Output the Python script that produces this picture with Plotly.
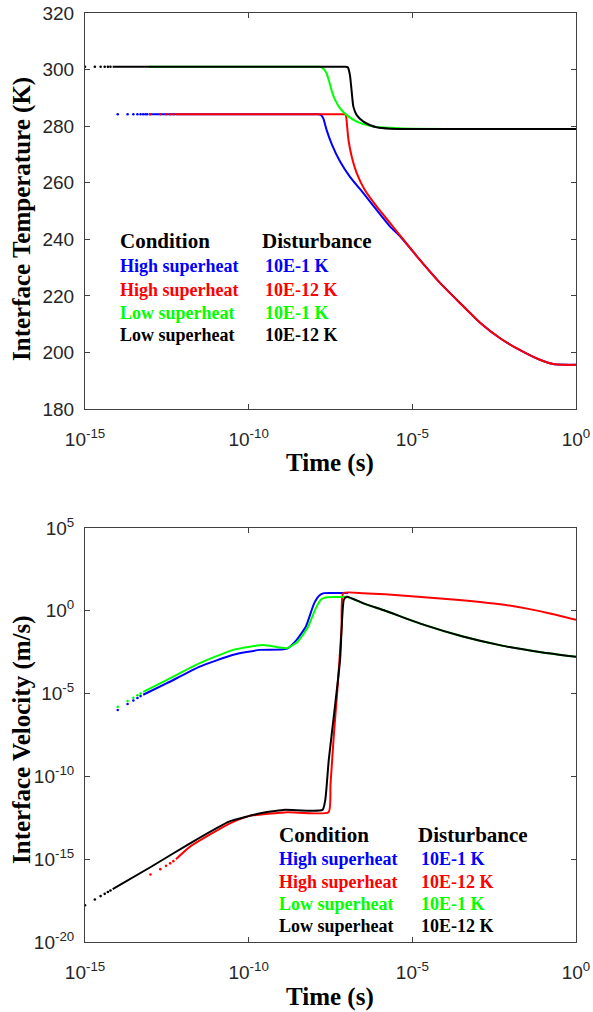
import plotly.graph_objects as go

W, H = 593, 1012

# ---------------- Top panel: interface temperature (K) ----------------
black_T_dots_t = [1e-15, 2e-15, 3e-15, 4e-15, 5e-15, 6e-15]
black_T_dots = [301.0, 301.0, 301.0, 301.0, 301.0, 301.0]
black_T_t = [7e-15, 1e-12, 1e-10, 1e-8, 6e-8, 9e-8, 1.07e-7, 1.17e-7, 1.26e-7, 1.41e-7, 1.58e-7, 2.0e-7,
             3.2e-7, 5.0e-7, 8.1e-7, 2.1e-6, 1e-5, 1e-4, 1e-2, 1.0]
black_T = [301.0, 301.0, 301.0, 301.0, 301.0, 301.0, 300.8, 299.5, 297.5, 292.0, 286.9, 283.9,
           281.6, 280.4, 279.6, 279.1, 279.0, 279.0, 279.0, 279.0]

green_T_t = [9e-14, 1e-11, 1e-9, 8e-9, 1.4e-8, 1.7e-8, 2.0e-8, 2.4e-8, 2.9e-8, 3.5e-8, 4.4e-8, 6.2e-8,
             1.0e-7, 2.0e-7, 5.1e-7, 1.3e-6, 1e-5, 1e-3, 1.0]
green_T = [301.0, 301.0, 301.0, 301.0, 301.0, 300.8, 300.1, 298.7, 295.7, 292.2, 289.2, 286.3,
           283.9, 281.6, 280.1, 279.5, 279.1, 279.0, 279.0]

blue_T_dots_t = [1e-14, 2e-14, 3e-14, 4e-14, 5e-14, 6e-14, 7e-14, 8e-14]
blue_T_dots = [284.2, 284.2, 284.2, 284.2, 284.2, 284.2, 284.2, 284.2]
blue_T_t = [9e-14, 1e-11, 1e-9, 8e-9, 1.3e-8, 1.6e-8, 1.9e-8, 2.4e-8, 3.5e-8, 6.2e-8, 1.26e-7, 3.2e-7,
            8.1e-7, 2.1e-6, 4.3e-6, 1.7e-5, 7.1e-5, 2.9e-4, 1.2e-3, 4.8e-3, 1.9e-2, 7.9e-2, 0.2, 1.0]
blue_T = [284.2, 284.2, 284.2, 284.2, 284.2, 284.0, 282.8, 278.7, 273.5, 267.5, 262.0, 256.3,
          250.4, 244.5, 241.0, 232.7, 224.5, 217.4, 210.4, 205.0, 200.9, 197.4, 195.9, 195.6]

red_T_dots_t = [1e-13, 2e-13, 3e-13, 4e-13, 5e-13]
red_T_dots = [284.2, 284.2, 284.2, 284.2, 284.2]
red_T_t = [6e-13, 1e-10, 1e-8, 6e-8, 8.6e-8, 9.3e-8, 1.02e-7, 1.12e-7, 1.41e-7, 2.0e-7, 3.5e-7, 8.1e-7,
           2.1e-6, 4.3e-6, 1.7e-5, 7.1e-5, 2.9e-4, 1.2e-3, 4.8e-3, 1.9e-2, 7.9e-2, 0.2, 0.5, 1.0]
red_T = [284.2, 284.2, 284.2, 284.2, 284.2, 284.0, 279.8, 275.1, 269.2, 263.4, 257.5, 251.6,
         245.7, 241.2, 232.7, 224.5, 217.4, 210.4, 205.0, 200.9, 197.4, 195.9, 195.6, 195.6]

# ---------------- Bottom panel: interface velocity (m/s) ----------------
blue_v_dots_t = [1e-14, 2e-14, 3e-14, 4e-14, 5e-14]
blue_v_dots = [1.02e-6, 2.34e-6, 3.8e-6, 5.37e-6, 7.08e-6]
blue_v_t = [6e-14, 3.2e-13, 3.2e-12, 3.4e-11, 2.2e-10, 1.45e-9, 2.8e-9, 5.6e-9, 1.0e-8, 1.5e-8, 2.0e-8,
            7.8e-8, 1.1e-7]
blue_v = [8.5e-6, 4.27e-5, 4.27e-4, 2.19e-3, 4.37e-3, 5.0e-3, 1.58e-2, 0.112, 2.82, 8.9, 11.7,
          11.7, 11.7]

green_v_dots_t = [1e-14, 2e-14, 3e-14, 4e-14, 5e-14]
green_v_dots = [1.62e-6, 3.55e-6, 5.6e-6, 7.9e-6, 1.0e-5]
green_v_t = [6e-14, 3.2e-13, 3.2e-12, 3.4e-11, 2.8e-10, 1.45e-9, 3.2e-9, 6.6e-9, 1.12e-8, 1.66e-8, 2.4e-8,
             6.2e-8, 1.0e-7, 3.2e-7, 1.48e-6, 2.3e-5, 3.5e-4, 5.5e-3, 8.5e-2, 1.0]
green_v = [1.26e-5, 6.8e-5, 6.9e-4, 4.37e-3, 8.5e-3, 5.5e-3, 1.41e-2, 0.112, 1.41, 5.0, 6.6,
           6.8, 7.1, 2.82, 1.0, 0.141, 2.8e-2, 7.9e-3, 3.16e-3, 1.66e-3]

red_v_dots_t = [1e-13, 2e-13, 3e-13, 4e-13, 5e-13]
red_v_dots = [1.2e-16, 2.5e-16, 4.0e-16, 5.6e-16, 7.6e-16]
red_v_t = [6e-13, 1.62e-12, 2.5e-11, 1e-10, 4.0e-10, 1.55e-9, 2.75e-8, 3.16e-8, 4.0e-8, 5.25e-8, 6.9e-8,
           7.8e-8, 3.2e-7, 1.48e-6, 1.4e-4, 5.5e-3, 3.2e-2, 0.148, 1.0]
red_v = [1.0e-15, 5.75e-15, 1.35e-13, 4.0e-13, 5.5e-13, 6.9e-13, 6.9e-13, 3.16e-11, 3.16e-8, 3.16e-5, 0.1,
         11.7, 11.5, 10.0, 5.0, 2.4, 1.35, 0.72, 0.29]

black_v_dots_t = [1e-15, 2e-15, 3e-15, 4e-15, 5e-15, 6e-15]
black_v_dots = [1.66e-18, 3.7e-18, 5.9e-18, 8.1e-18, 1.05e-17, 1.29e-17]
black_v_t = [7e-15, 1.05e-13, 1.62e-12, 2.5e-11, 1e-10, 2.3e-10, 1.17e-9, 1.8e-8, 2.2e-8, 2.8e-8, 4.2e-8,
             6.2e-8, 8.1e-8, 1.0e-7, 3.2e-7, 1.48e-6, 2.3e-5, 3.5e-4, 5.5e-3, 8.5e-2, 1.0]
black_v = [1.55e-17, 3.5e-16, 9.1e-15, 1.86e-13, 4.0e-13, 6.0e-13, 9.5e-13, 9.5e-13, 4.0e-12, 1e-9, 1e-6,
           1.1e-3, 4.7, 7.1, 2.82, 1.0, 0.141, 2.8e-2, 7.9e-3, 3.16e-3, 1.66e-3]

# ---------------- legend table ----------------
cond_labels = ["High superheat", "High superheat", "Low superheat", "Low superheat"]
dist_labels = ["10E-1 K", "10E-12 K", "10E-1 K", "10E-12 K"]
series_colors = ["#0000FF", "#FF0000", "#00FF00", "#000000"]

x_tickvals = [1e-15, 1e-10, 1e-5, 1]
x_ticktext = ["10<sup>-15</sup>", "10<sup>-10</sup>", "10<sup>-5</sup>", "10<sup>0</sup>"]
yT_tickvals = [180, 200, 220, 240, 260, 280, 300, 320]
yv_tickvals = [1e-20, 1e-15, 1e-10, 1e-5, 1, 1e5]
yv_ticktext = ["10<sup>-20</sup>", "10<sup>-15</sup>", "10<sup>-10</sup>", "10<sup>-5</sup>",
               "10<sup>0</sup>", "10<sup>5</sup>"]

# ---------------- layout geometry (window pixels) ----------------
PX_L, PX_R = 85, 576
TOP_T, TOP_B = 13, 409
BOT_T, BOT_B = 528, 942


def px(x):
    return x / W


def py(y):
    return 1 - y / H


fig = go.Figure()

LW = 2.0
MS = 2.6


def add_series(t, v, color, xa, ya, dots_t=None, dots_v=None):
    fig.add_trace(go.Scatter(x=t, y=v, mode="lines",
                             line=dict(color=color, width=LW, shape="spline", smoothing=0.5),
                             xaxis=xa, yaxis=ya, showlegend=False, hoverinfo="skip"))
    if dots_t is not None:
        fig.add_trace(go.Scatter(x=dots_t, y=dots_v, mode="markers",
                                 marker=dict(color=color, size=MS, line=dict(width=0)),
                                 xaxis=xa, yaxis=ya, showlegend=False, hoverinfo="skip"))


# top panel (draw order: blue, red, green, black)
add_series(blue_T_t, blue_T, series_colors[0], "x", "y", blue_T_dots_t, blue_T_dots)
add_series(red_T_t, red_T, series_colors[1], "x", "y", red_T_dots_t, red_T_dots)
add_series(green_T_t, green_T, series_colors[2], "x", "y")
add_series(black_T_t, black_T, series_colors[3], "x", "y", black_T_dots_t, black_T_dots)

# bottom panel
add_series(blue_v_t, blue_v, series_colors[0], "x2", "y2", blue_v_dots_t, blue_v_dots)
add_series(red_v_t, red_v, series_colors[1], "x2", "y2", red_v_dots_t, red_v_dots)
add_series(green_v_t, green_v, series_colors[2], "x2", "y2", green_v_dots_t, green_v_dots)
add_series(black_v_t, black_v, series_colors[3], "x2", "y2", black_v_dots_t, black_v_dots)

AX_COLOR = "#404040"
TICK_FONT = dict(family="Liberation Sans, Arial, sans-serif", size=19, color="#262626")

common = dict(showline=True, linecolor=AX_COLOR, linewidth=1, mirror="ticks", ticks="inside",
              ticklen=5, tickcolor=AX_COLOR, showgrid=False, zeroline=False, tickfont=TICK_FONT,
              automargin=False, ticklabeloverflow="allow")

fig.update_layout(
    width=W, height=H, margin=dict(l=0, r=0, t=0, b=0, autoexpand=False),
    paper_bgcolor="white", plot_bgcolor="white", showlegend=False,
    xaxis=dict(type="log", range=[-15, 0], domain=[px(PX_L), px(PX_R)], anchor="y",
               tickvals=x_tickvals, ticktext=x_ticktext, ticklabelstandoff=13, **common),
    yaxis=dict(range=[180, 320], domain=[py(TOP_B), py(TOP_T)], anchor="x",
               tickvals=yT_tickvals, ticklabelstandoff=6, **common),
    xaxis2=dict(type="log", range=[-15, 0], domain=[px(PX_L), px(PX_R)], anchor="y2",
                tickvals=x_tickvals, ticktext=x_ticktext, ticklabelstandoff=13, **common),
    yaxis2=dict(type="log", range=[-20, 5], domain=[py(BOT_B), py(BOT_T)], anchor="x2",
                tickvals=yv_tickvals, ticktext=yv_ticktext, ticklabelstandoff=6, **common),
)

SERIF = "Liberation Serif, Times New Roman, serif"
ann = []


def text(x, y, s, size, color="#000000", angle=0, xanchor="left"):
    ann.append(dict(x=px(x), y=py(y), xref="paper", yref="paper", text="<b>" + s + "</b>",
                    showarrow=False, xanchor=xanchor, yanchor="middle", textangle=angle,
                    font=dict(family=SERIF, size=size, color=color)))


# axis titles
text(22, 219, "Interface Temperature (K)", 25, angle=-90, xanchor="center")
text(330, 463, "Time (s)", 25, xanchor="center")
text(22, 740, "Interface Velocity (m/s)", 25, angle=-90, xanchor="center")
text(330, 997, "Time (s)", 25, xanchor="center")

# legend tables
legend_layout = [
    (118, 260, 241, [266, 290, 313, 335]),
    (277, 416, 835, [859, 882, 904, 926]),
]
for (cx, dx, y0, rows) in legend_layout:
    text(cx, y0, "Condition", 21)
    text(dx, y0, "Disturbance", 21)
    for i in range(4):
        text(cx, rows[i], cond_labels[i], 18, series_colors[i])
        text(dx + 3, rows[i], dist_labels[i], 18, series_colors[i])

fig.update_layout(annotations=ann)
# remove the default 8 px page margin so the 593x1012 figure fills the window exactly
fig.write_html("out.html", config={"displayModeBar": False},
               post_script="document.body.style.margin='0px';")
